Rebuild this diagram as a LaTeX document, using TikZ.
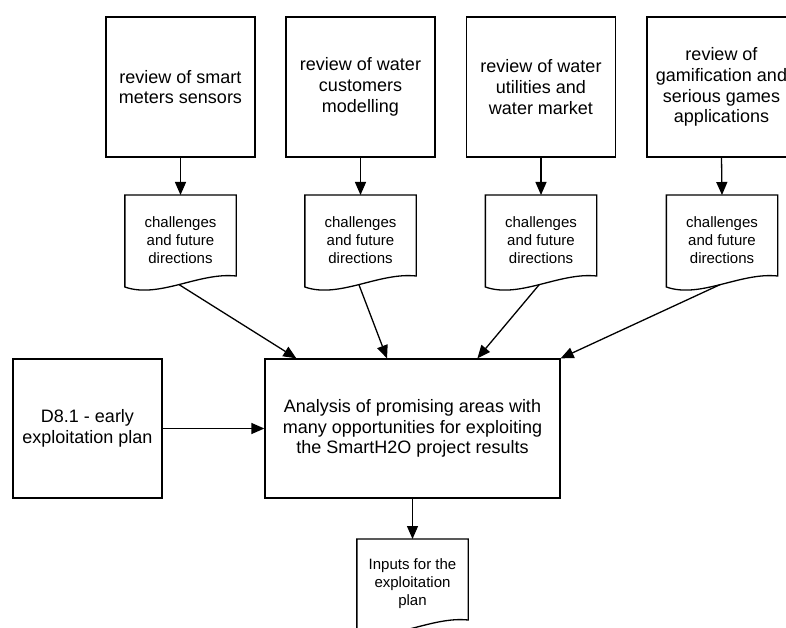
\documentclass[tikz,border=0pt]{standalone}
\usepackage{fontspec}
\setmainfont{Liberation Sans}
\usetikzlibrary{arrows.meta,calc}

% Document symbol: straight top and sides, wavy bottom edge.
% Also defines <name>-out, the point on the wave where outgoing links start.
\newcommand\drawdoc[1]{%
  \draw (#1.north west) -- (#1.north east) -- ($(#1.north east)+(0,81)$)
    .. controls ($(#1.north west)+(74,77)$) and ($(#1.north west)+(34,104)$)
    .. ($(#1.north west)+(0,92)$) -- cycle;
  \coordinate (#1-out) at ($(#1.north west)+(54,89.5)$);}

\begin{document}
\begin{tikzpicture}[x=1pt,y=-1pt,line width=1.3pt,
  box/.style={draw, minimum width=149pt, minimum height=140pt, align=center,
    inner sep=0pt, font=\fontsize{18}{20.7}\selectfont},
  docbody/.style={minimum width=110pt, minimum height=88pt, anchor=north,
    align=center, inner sep=0pt, font=\fontsize{15}{18}\selectfont},
  link/.style={-{Triangle[length=13pt,width=11pt]}}]
\clip (0,0) rectangle (786,628);

% literature reviews
\node[box] (r1) at (180.5,87) {review of smart\\meters sensors};
\node[box] (r2) at (360.5,87) {review of water\\customers\\modelling};
\node[box] (r3) at (541,87) {review of water\\utilities and\\water market};
\node[box] (r4) at (721.5,87) {review of\\gamification and\\serious games\\applications};

% outcome documents of each review
\node[docbody] (c1) at (180.5,195) {challenges\\and future\\directions};
\node[docbody] (c2) at (360.5,195) {challenges\\and future\\directions};
\node[docbody] (c3) at (541,195) {challenges\\and future\\directions};
\node[docbody] (c4) at (722,195) {challenges\\and future\\directions};
\drawdoc{c1}
\drawdoc{c2}
\drawdoc{c3}
\drawdoc{c4}

% analysis step and its extra input
\node[box, minimum width=295pt, minimum height=139pt] (main) at (412.5,428.5)
  {Analysis of promising areas with\\many opportunities for exploiting\\the SmartH2O project results};
\node[box, minimum height=139pt] (plan) at (87.5,428.5) {D8.1 - early\\exploitation plan};

% final output document
\node[docbody] (inp) at (412.5,539) {Inputs for the\\exploitation\\plan};
\drawdoc{inp}

% entry points on the top edge of the analysis box
\coordinate (m1) at ($(main.north west)!0.108!(main.north east)$);
\coordinate (m2) at ($(main.north west)!0.414!(main.north east)$);
\coordinate (m3) at ($(main.north west)!0.719!(main.north east)$);
\coordinate (m4) at (main.north east);

% connectors
\draw[link] (r1.south) -- (c1.north);
\draw[link] (r2.south) -- (c2.north);
\draw[link] (r3.south) -- (c3.north);
\draw[link] (r4.south) -- (c4.north);
\draw[link] (c1-out) -- (m1);
\draw[link] (c2-out) -- (m2);
\draw[link] (c3-out) -- (m3);
\draw[link] (c4-out) -- (m4);
\draw[link] (plan.east) -- (main.west);
\draw[link] (main.south) -- (inp.north);
\end{tikzpicture}
\end{document}
